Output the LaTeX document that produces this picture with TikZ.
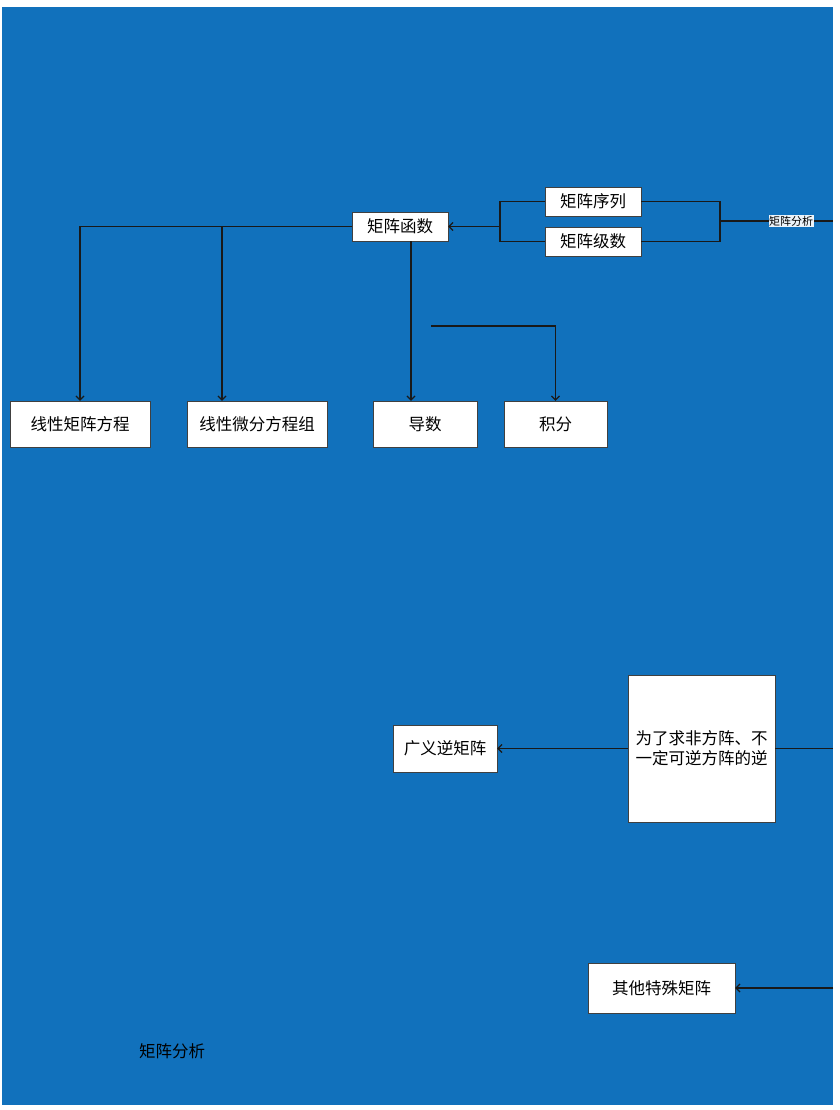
\documentclass[tikz,border=0pt]{standalone}
\usepackage{fontspec}
\newfontfamily\cjk{Noto Sans CJK SC}
\usetikzlibrary{arrows.meta, positioning}
\definecolor{MAblue}{RGB}{17,113,188}
\colorlet{MAline}{black!90}

\begin{document}
\begin{tikzpicture}[x=1pt, y=-1pt, >={Straight Barb[length=4pt,width=8pt]},
    box/.style={draw=black!75, fill=white, inner sep=0pt, align=center,
      font=\cjk\fontsize{16.5}{20}\selectfont},
    link/.style={draw=MAline, line width=1.2pt},
    tag/.style={fill=white!92!MAblue, inner sep=0.5pt, font=\cjk\fontsize{11}{12}\selectfont}]
        \useasboundingbox (0,0) rectangle (839,1110);
        \fill[MAblue] (2,7) rectangle (833,1105);
        % upper part
        \node[box, minimum width=96pt, minimum height=29pt] (seq) at (593,201.5) {矩阵序列};
        \node[box, minimum width=96pt, minimum height=29pt] (ser) at (593,241.5) {矩阵级数};
        \node[box, minimum width=96pt, minimum height=29pt] (fun) at (400,226.5) {矩阵函数};
        \node[box, minimum width=140pt, minimum height=46pt] (eqa) at (80,424) {线性矩阵方程};
        \node[box, minimum width=140pt, minimum height=46pt] (eqb) at (257,424) {线性微分方程组};
        \node[box, minimum width=104pt, minimum height=46pt] (der) at (425,424) {导数};
        \node[box, minimum width=103pt, minimum height=46pt] (int) at (555.5,424) {积分};
        \coordinate (rj) at (720,221);
        \coordinate (lj) at (500,226.5);
        \coordinate (re) at (833,221);
        \coordinate (bb) at (222,226.5);
        \coordinate (fd) at (411,241);
        \coordinate (ij) at (431,326);
        \draw[link] (seq.east) -| (rj) |- (ser.east);
        \draw[link] (rj) -- node[tag, pos=0.63] {矩阵分析} (re);
        \draw[link] (seq.west) -| (lj) |- (ser.west);
        \draw[link, ->] (lj) -- (fun.east);
        \draw[link, ->] (fun.west) -| (eqa.north);
        \draw[link, ->] (bb) -- (bb |- eqb.north);
        \draw[link, ->] (fd) -- (fd |- der.north);
        \draw[link, ->] (ij) -| (int.north);
        % lower part
        \node[box, minimum width=147pt, minimum height=147pt] (why) at (701.5,748.5) {为了求非方阵、不\\一定可逆方阵的逆};
        \node[box, minimum width=104pt, minimum height=47pt] (gny) at (445,748.5) {广义逆矩阵};
        \node[box, minimum width=147pt, minimum height=50pt] (oth) at (661.5,988) {其他特殊矩阵};
        \coordinate (we) at (833,748.5);
        \coordinate (oe) at (833,988);
        \draw[link, ->] (why.west) -- (gny.east);
        \draw[link] (why.east) -- (we);
        \draw[link, ->] (oe) -- (oth.east);
        \node[font=\cjk\fontsize{16.5}{20}\selectfont] (cap) at (172,1051) {矩阵分析};
      \end{tikzpicture}
\end{document}
